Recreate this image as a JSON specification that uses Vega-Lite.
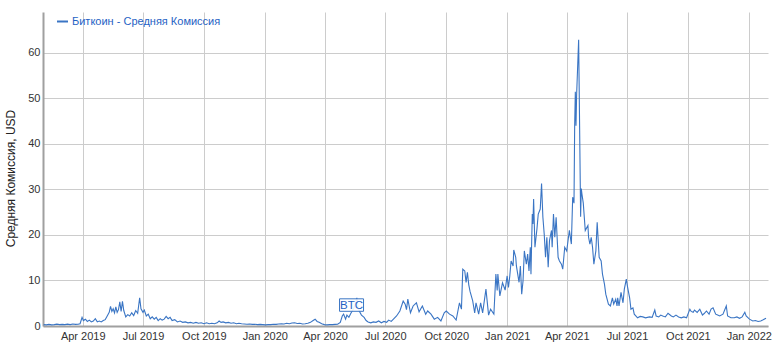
{
  "$schema": "https://vega.github.io/schema/vega-lite/v6.json",
  "width": 725,
  "height": 314,
  "autosize": "none",
  "padding": {"left": 43, "top": 12, "right": 7, "bottom": 17},
  "background": "white",
  "config": {
    "view": {"stroke": null},
    "font": "Liberation Sans"
  },
  "layer": [
    {
      "data": {"values": [
        {"date":"2019-02-01","fee":0.3},{"date":"2019-02-05","fee":0.25},{"date":"2019-02-09","fee":0.35},{"date":"2019-02-13","fee":0.25},{"date":"2019-02-17","fee":0.3},{"date":"2019-02-21","fee":0.4},{"date":"2019-02-25","fee":0.3},{"date":"2019-03-01","fee":0.35},{"date":"2019-03-05","fee":0.3},{"date":"2019-03-09","fee":0.4},{"date":"2019-03-13","fee":0.3},{"date":"2019-03-17","fee":0.45},{"date":"2019-03-21","fee":0.35},{"date":"2019-03-25","fee":0.4},{"date":"2019-03-28","fee":0.5},{"date":"2019-03-31","fee":1.9},
        {"date":"2019-04-02","fee":1.2},{"date":"2019-04-05","fee":1.5},{"date":"2019-04-08","fee":1.0},{"date":"2019-04-11","fee":1.3},{"date":"2019-04-14","fee":0.9},{"date":"2019-04-17","fee":1.1},{"date":"2019-04-20","fee":1.6},{"date":"2019-04-23","fee":0.9},{"date":"2019-04-26","fee":1.1},{"date":"2019-04-29","fee":0.9},
        {"date":"2019-05-02","fee":1.2},{"date":"2019-05-05","fee":1.4},{"date":"2019-05-08","fee":2.2},{"date":"2019-05-11","fee":3.0},{"date":"2019-05-13","fee":4.3},{"date":"2019-05-15","fee":3.2},{"date":"2019-05-17","fee":3.8},{"date":"2019-05-19","fee":2.9},{"date":"2019-05-21","fee":4.2},{"date":"2019-05-23","fee":3.0},{"date":"2019-05-25","fee":3.6},{"date":"2019-05-27","fee":5.3},{"date":"2019-05-29","fee":3.2},{"date":"2019-05-31","fee":5.4},
        {"date":"2019-06-02","fee":3.4},{"date":"2019-06-05","fee":2.0},{"date":"2019-06-08","fee":2.5},{"date":"2019-06-11","fee":2.2},{"date":"2019-06-14","fee":2.9},{"date":"2019-06-17","fee":2.3},{"date":"2019-06-20","fee":3.4},{"date":"2019-06-23","fee":2.8},{"date":"2019-06-26","fee":6.2},{"date":"2019-06-28","fee":3.8},
        {"date":"2019-07-01","fee":3.0},{"date":"2019-07-03","fee":3.5},{"date":"2019-07-06","fee":2.2},{"date":"2019-07-09","fee":2.6},{"date":"2019-07-12","fee":1.6},{"date":"2019-07-15","fee":2.0},{"date":"2019-07-18","fee":1.5},{"date":"2019-07-21","fee":1.9},{"date":"2019-07-24","fee":1.2},{"date":"2019-07-27","fee":1.6},{"date":"2019-07-30","fee":1.3},
        {"date":"2019-08-02","fee":1.5},{"date":"2019-08-05","fee":2.1},{"date":"2019-08-08","fee":1.6},{"date":"2019-08-11","fee":1.9},{"date":"2019-08-14","fee":1.2},{"date":"2019-08-18","fee":1.4},{"date":"2019-08-22","fee":0.9},{"date":"2019-08-26","fee":1.1},{"date":"2019-08-30","fee":0.8},
        {"date":"2019-09-03","fee":0.9},{"date":"2019-09-07","fee":0.7},{"date":"2019-09-11","fee":0.8},{"date":"2019-09-15","fee":0.6},{"date":"2019-09-19","fee":0.8},{"date":"2019-09-23","fee":0.6},{"date":"2019-09-27","fee":0.7},
        {"date":"2019-10-01","fee":0.5},{"date":"2019-10-05","fee":0.7},{"date":"2019-10-09","fee":0.5},{"date":"2019-10-13","fee":0.6},{"date":"2019-10-17","fee":0.5},{"date":"2019-10-21","fee":0.7},{"date":"2019-10-24","fee":1.1},{"date":"2019-10-27","fee":0.8},{"date":"2019-10-30","fee":0.9},
        {"date":"2019-11-03","fee":0.7},{"date":"2019-11-07","fee":0.8},{"date":"2019-11-11","fee":0.6},{"date":"2019-11-15","fee":0.7},{"date":"2019-11-19","fee":0.5},{"date":"2019-11-23","fee":0.6},{"date":"2019-11-27","fee":0.5},
        {"date":"2019-12-01","fee":0.45},{"date":"2019-12-05","fee":0.4},{"date":"2019-12-09","fee":0.45},{"date":"2019-12-13","fee":0.35},{"date":"2019-12-17","fee":0.4},{"date":"2019-12-21","fee":0.3},{"date":"2019-12-25","fee":0.35},{"date":"2019-12-29","fee":0.3},
        {"date":"2020-01-02","fee":0.25},{"date":"2020-01-06","fee":0.3},{"date":"2020-01-10","fee":0.3},{"date":"2020-01-14","fee":0.4},{"date":"2020-01-18","fee":0.35},{"date":"2020-01-22","fee":0.45},{"date":"2020-01-26","fee":0.5},{"date":"2020-01-30","fee":0.45},
        {"date":"2020-02-03","fee":0.6},{"date":"2020-02-07","fee":0.5},{"date":"2020-02-11","fee":0.65},{"date":"2020-02-15","fee":0.7},{"date":"2020-02-19","fee":0.55},{"date":"2020-02-23","fee":0.6},{"date":"2020-02-27","fee":0.45},
        {"date":"2020-03-02","fee":0.5},{"date":"2020-03-06","fee":0.6},{"date":"2020-03-10","fee":0.8},{"date":"2020-03-14","fee":1.2},{"date":"2020-03-17","fee":1.5},{"date":"2020-03-20","fee":1.0},{"date":"2020-03-23","fee":0.8},{"date":"2020-03-27","fee":0.5},{"date":"2020-03-31","fee":0.3},
        {"date":"2020-04-04","fee":0.25},{"date":"2020-04-08","fee":0.3},{"date":"2020-04-12","fee":0.3},{"date":"2020-04-16","fee":0.35},{"date":"2020-04-20","fee":0.4},{"date":"2020-04-24","fee":0.8},{"date":"2020-04-27","fee":2.2},{"date":"2020-04-29","fee":2.6},
        {"date":"2020-05-02","fee":1.5},{"date":"2020-05-04","fee":2.4},{"date":"2020-05-07","fee":1.9},{"date":"2020-05-10","fee":2.8},{"date":"2020-05-13","fee":3.5},{"date":"2020-05-16","fee":4.5},{"date":"2020-05-19","fee":6.2},{"date":"2020-05-21","fee":4.0},{"date":"2020-05-23","fee":3.2},{"date":"2020-05-26","fee":2.4},{"date":"2020-05-30","fee":1.9},
        {"date":"2020-06-02","fee":1.2},{"date":"2020-06-05","fee":0.9},{"date":"2020-06-09","fee":0.7},{"date":"2020-06-13","fee":0.9},{"date":"2020-06-17","fee":0.8},{"date":"2020-06-21","fee":1.1},{"date":"2020-06-25","fee":0.7},{"date":"2020-06-29","fee":1.0},
        {"date":"2020-07-03","fee":0.8},{"date":"2020-07-06","fee":1.3},{"date":"2020-07-10","fee":1.0},{"date":"2020-07-14","fee":1.6},{"date":"2020-07-18","fee":2.2},{"date":"2020-07-23","fee":3.3},{"date":"2020-07-28","fee":5.5},{"date":"2020-07-31","fee":4.8},
        {"date":"2020-08-02","fee":3.6},{"date":"2020-08-04","fee":5.9},{"date":"2020-08-08","fee":2.9},{"date":"2020-08-12","fee":4.4},{"date":"2020-08-17","fee":5.1},{"date":"2020-08-21","fee":3.1},{"date":"2020-08-26","fee":4.4},{"date":"2020-08-31","fee":2.6},
        {"date":"2020-09-03","fee":3.3},{"date":"2020-09-08","fee":2.6},{"date":"2020-09-13","fee":1.5},{"date":"2020-09-18","fee":1.9},{"date":"2020-09-23","fee":1.1},{"date":"2020-09-28","fee":2.9},
        {"date":"2020-10-01","fee":3.3},{"date":"2020-10-06","fee":2.6},{"date":"2020-10-11","fee":2.2},{"date":"2020-10-16","fee":1.3},{"date":"2020-10-21","fee":5.1},{"date":"2020-10-24","fee":3.7},{"date":"2020-10-26","fee":12.5},{"date":"2020-10-29","fee":12.1},{"date":"2020-10-31","fee":9.6},
        {"date":"2020-11-02","fee":11.8},{"date":"2020-11-04","fee":9.1},{"date":"2020-11-06","fee":7.6},{"date":"2020-11-10","fee":5.5},{"date":"2020-11-13","fee":2.9},{"date":"2020-11-15","fee":5.1},{"date":"2020-11-19","fee":2.6},{"date":"2020-11-22","fee":5.1},{"date":"2020-11-25","fee":2.9},{"date":"2020-11-30","fee":8.1},
        {"date":"2020-12-04","fee":2.4},{"date":"2020-12-07","fee":3.7},{"date":"2020-12-12","fee":2.6},{"date":"2020-12-15","fee":11.4},{"date":"2020-12-17","fee":7.8},{"date":"2020-12-18","fee":11.4},{"date":"2020-12-21","fee":6.6},{"date":"2020-12-25","fee":9.5},{"date":"2020-12-29","fee":7.9},
        {"date":"2021-01-01","fee":11.0},{"date":"2021-01-03","fee":8.5},{"date":"2021-01-05","fee":11.0},{"date":"2021-01-07","fee":14.3},{"date":"2021-01-10","fee":13.2},{"date":"2021-01-11","fee":16.7},{"date":"2021-01-14","fee":15.1},{"date":"2021-01-15","fee":13.2},{"date":"2021-01-17","fee":11.4},{"date":"2021-01-19","fee":9.6},{"date":"2021-01-21","fee":13.2},{"date":"2021-01-23","fee":7.0},{"date":"2021-01-25","fee":9.9},{"date":"2021-01-27","fee":16.5},{"date":"2021-01-30","fee":13.6},
        {"date":"2021-02-01","fee":15.8},{"date":"2021-02-03","fee":12.1},{"date":"2021-02-05","fee":17.3},{"date":"2021-02-06","fee":11.4},{"date":"2021-02-08","fee":24.6},{"date":"2021-02-09","fee":22.4},{"date":"2021-02-10","fee":27.9},{"date":"2021-02-12","fee":17.3},{"date":"2021-02-15","fee":21.3},{"date":"2021-02-17","fee":24.6},{"date":"2021-02-20","fee":25.7},{"date":"2021-02-22","fee":31.3},{"date":"2021-02-24","fee":23.9},{"date":"2021-02-26","fee":20.2},{"date":"2021-02-28","fee":15.1},
        {"date":"2021-03-02","fee":19.5},{"date":"2021-03-04","fee":12.9},{"date":"2021-03-06","fee":18.8},{"date":"2021-03-09","fee":21.0},{"date":"2021-03-10","fee":17.3},{"date":"2021-03-12","fee":24.6},{"date":"2021-03-14","fee":19.5},{"date":"2021-03-16","fee":23.9},{"date":"2021-03-19","fee":15.1},{"date":"2021-03-21","fee":14.3},{"date":"2021-03-24","fee":13.6},{"date":"2021-03-26","fee":12.5},{"date":"2021-03-29","fee":17.3},
        {"date":"2021-04-01","fee":16.5},{"date":"2021-04-03","fee":18.8},{"date":"2021-04-05","fee":21.0},{"date":"2021-04-08","fee":18.0},{"date":"2021-04-10","fee":28.3},{"date":"2021-04-12","fee":27.0},{"date":"2021-04-13","fee":44.0},{"date":"2021-04-14","fee":51.5},{"date":"2021-04-15","fee":44.0},{"date":"2021-04-16","fee":51.0},{"date":"2021-04-19","fee":62.9},{"date":"2021-04-22","fee":24.0},{"date":"2021-04-23","fee":30.2},{"date":"2021-04-24","fee":29.0},{"date":"2021-04-26","fee":27.0},{"date":"2021-04-29","fee":21.0},
        {"date":"2021-05-03","fee":22.1},{"date":"2021-05-04","fee":19.5},{"date":"2021-05-06","fee":18.0},{"date":"2021-05-08","fee":19.5},{"date":"2021-05-10","fee":17.3},{"date":"2021-05-12","fee":13.6},{"date":"2021-05-15","fee":16.5},{"date":"2021-05-17","fee":22.8},{"date":"2021-05-20","fee":15.1},{"date":"2021-05-23","fee":14.3},{"date":"2021-05-25","fee":11.4},{"date":"2021-05-28","fee":9.2},{"date":"2021-05-30","fee":7.0},
        {"date":"2021-06-03","fee":4.8},{"date":"2021-06-06","fee":4.4},{"date":"2021-06-09","fee":6.2},{"date":"2021-06-11","fee":4.8},{"date":"2021-06-14","fee":5.9},{"date":"2021-06-16","fee":4.4},{"date":"2021-06-17","fee":6.2},{"date":"2021-06-19","fee":4.4},{"date":"2021-06-22","fee":7.4},{"date":"2021-06-25","fee":5.1},{"date":"2021-06-27","fee":8.1},{"date":"2021-06-30","fee":10.3},
        {"date":"2021-07-02","fee":8.5},{"date":"2021-07-05","fee":6.2},{"date":"2021-07-07","fee":3.7},{"date":"2021-07-10","fee":4.0},{"date":"2021-07-12","fee":2.6},{"date":"2021-07-17","fee":1.8},{"date":"2021-07-21","fee":2.1},{"date":"2021-07-25","fee":2.0},{"date":"2021-07-29","fee":1.8},
        {"date":"2021-08-04","fee":2.0},{"date":"2021-08-08","fee":1.9},{"date":"2021-08-12","fee":3.5},{"date":"2021-08-14","fee":2.2},{"date":"2021-08-18","fee":2.0},{"date":"2021-08-21","fee":2.4},{"date":"2021-08-24","fee":2.2},{"date":"2021-08-28","fee":2.0},
        {"date":"2021-09-01","fee":2.8},{"date":"2021-09-06","fee":2.2},{"date":"2021-09-09","fee":2.0},{"date":"2021-09-13","fee":2.4},{"date":"2021-09-17","fee":2.0},{"date":"2021-09-21","fee":1.8},{"date":"2021-09-25","fee":2.0},{"date":"2021-09-29","fee":1.8},
        {"date":"2021-10-04","fee":3.7},{"date":"2021-10-06","fee":3.2},{"date":"2021-10-09","fee":3.0},{"date":"2021-10-11","fee":3.5},{"date":"2021-10-15","fee":3.0},{"date":"2021-10-19","fee":3.7},{"date":"2021-10-23","fee":2.4},{"date":"2021-10-26","fee":2.8},{"date":"2021-10-29","fee":3.3},
        {"date":"2021-11-02","fee":2.6},{"date":"2021-11-05","fee":3.7},{"date":"2021-11-08","fee":4.0},{"date":"2021-11-12","fee":2.6},{"date":"2021-11-15","fee":2.4},{"date":"2021-11-18","fee":2.2},{"date":"2021-11-23","fee":2.6},{"date":"2021-11-28","fee":4.4},{"date":"2021-11-30","fee":2.2},
        {"date":"2021-12-05","fee":1.8},{"date":"2021-12-10","fee":1.8},{"date":"2021-12-14","fee":2.0},{"date":"2021-12-18","fee":1.7},{"date":"2021-12-22","fee":2.0},{"date":"2021-12-26","fee":3.0},{"date":"2021-12-28","fee":2.2},
        {"date":"2022-01-02","fee":1.5},{"date":"2022-01-07","fee":1.1},{"date":"2022-01-11","fee":1.2},{"date":"2022-01-15","fee":1.0},{"date":"2022-01-19","fee":1.1},{"date":"2022-01-22","fee":1.3},{"date":"2022-01-27","fee":1.7}
      ]},
      "mark": {"type": "line", "strokeWidth": 1.1, "clip": true},
      "encoding": {
        "x": {
          "field": "date", "type": "temporal",
          "scale": {"type": "utc", "domain": [{"year": 2019, "month": 1, "date": 31, "utc": true}, {"year": 2022, "month": 1, "date": 30, "utc": true}]},
          "axis": {
            "title": null,
            "values": [
              {"year": 2019, "month": 4, "date": 1, "utc": true},
              {"year": 2019, "month": 7, "date": 1, "utc": true},
              {"year": 2019, "month": 10, "date": 1, "utc": true},
              {"year": 2020, "month": 1, "date": 1, "utc": true},
              {"year": 2020, "month": 4, "date": 1, "utc": true},
              {"year": 2020, "month": 7, "date": 1, "utc": true},
              {"year": 2020, "month": 10, "date": 1, "utc": true},
              {"year": 2021, "month": 1, "date": 1, "utc": true},
              {"year": 2021, "month": 4, "date": 1, "utc": true},
              {"year": 2021, "month": 7, "date": 1, "utc": true},
              {"year": 2021, "month": 10, "date": 1, "utc": true},
              {"year": 2022, "month": 1, "date": 1, "utc": true}
            ],
            "format": "%b %Y",
            "labelFontSize": 11,
            "labelColor": "#333333",
            "labelPadding": 4,
            "labelFlush": false,
            "labelOverlap": false,
            "ticks": false,
            "grid": true,
            "gridColor": "#cccccc",
            "domainColor": "#a0a0a0",
            "domainWidth": 2
          }
        },
        "y": {
          "field": "fee", "type": "quantitative",
          "scale": {"domain": [0, 69], "nice": false, "zero": false},
          "axis": {
            "title": "Средняя Комиссия, USD",
            "values": [0, 10, 20, 30, 40, 50, 60],
            "labelFontSize": 11,
            "labelColor": "#333333",
            "labelPadding": 3,
            "ticks": false,
            "grid": true,
            "gridColor": "#cccccc",
            "domainColor": "#a0a0a0",
            "domainWidth": 2,
            "titleFontSize": 12,
            "titleFontWeight": "normal",
            "titleColor": "#222222",
            "titleX": -33,
            "titleY": 166,
            "titleAngle": -90,
            "titleAlign": "center",
            "titleBaseline": "middle"
          }
        },
        "color": {
          "datum": "Биткоин - Средняя Комиссия",
          "type": "nominal",
          "scale": {"range": ["#3a75c4"]},
          "legend": {
            "title": null,
            "orient": "none",
            "legendX": 13,
            "legendY": 3,
            "symbolType": "stroke",
            "symbolStrokeWidth": 2,
            "symbolSize": 121,
            "labelColor": "#1f62c4",
            "labelFontSize": 11,
            "labelOffset": 3,
            "labelLimit": 400
          }
        }
      }
    },
    {
      "data": {"values": [{"date": "2020-05-11", "fee": 4.6, "label": "BTC"}]},
      "mark": {"type": "point", "shape": "M-1,-0.52L1,-0.52L1,0.52L-1,0.52Z", "size": 576, "filled": true, "fill": "white", "fillOpacity": 0.9, "stroke": "#3a75c4", "strokeWidth": 1, "opacity": 1},
      "encoding": {
        "x": {"field": "date", "type": "temporal"},
        "y": {"field": "fee", "type": "quantitative"}
      }
    },
    {
      "data": {"values": [{"date": "2020-05-11", "fee": 4.6, "label": "BTC"}]},
      "mark": {"type": "text", "fontSize": 11.5, "color": "#1f62c4", "align": "center", "baseline": "middle", "dy": 0.5},
      "encoding": {
        "x": {"field": "date", "type": "temporal"},
        "y": {"field": "fee", "type": "quantitative"},
        "text": {"field": "label"}
      }
    }
  ]
}
